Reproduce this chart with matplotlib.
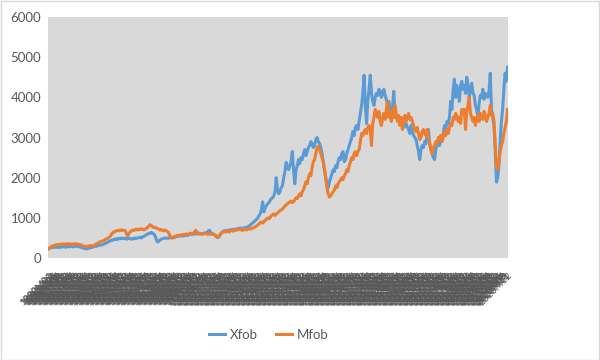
import matplotlib
matplotlib.use("Agg")
import matplotlib.pyplot as plt
from matplotlib.patches import Rectangle

years = list(range(1990, 2021))
months = list(range(1, 13))
labels = [f"{y}M{m:02d}" for y in years for m in months]

xfob = [
    245, 250, 265, 260, 270, 275, 265, 270, 280, 265, 275, 280,
    285, 280, 270, 285, 290, 280, 295, 285, 280, 290, 300, 295,
    290, 280, 270, 260, 250, 240, 235, 230, 245, 250, 260, 270,
    280, 290, 300, 295, 310, 320, 330, 325, 340, 355, 370, 380,
    400, 420, 430, 440, 450, 470, 460, 480, 470, 490, 480, 500,
    490, 480, 500, 470, 490, 500, 480, 470, 490, 480, 500, 490,
    500, 510, 520, 500, 530, 540, 560, 580, 600, 620, 610, 640,
    620, 600, 560, 470, 400, 420, 450, 470, 480, 490, 500, 495,
    500, 495, 510, 520, 500, 510, 520, 530, 540, 550, 545, 555,
    560, 550, 570, 580, 560, 575, 590, 600, 590, 600, 610, 600,
    610, 600, 620, 610, 600, 615, 620, 630, 640, 670, 690, 640,
    620, 600, 580, 560, 520, 510, 540, 600, 640, 660, 680, 670,
    690, 680, 700, 690, 710, 700, 720, 710, 730, 720, 740, 750,
    730, 740, 760, 750, 760, 780, 800, 820, 850, 880, 900, 940,
    960, 1000, 1050, 1100, 1200, 1400, 1150, 1250, 1300, 1350, 1380, 1430,
    1480, 1500, 1550, 1650, 2000, 1700, 1600, 1650, 1750, 1800, 2000, 2150,
    2380, 2250, 2200, 2300, 2400, 2650, 2200, 1850, 2200, 2300, 2450, 2350,
    2500, 2450, 2600, 2700, 2550, 2650, 2750, 2800, 2900, 2850, 2750, 2800,
    2950, 3000, 2900, 2850, 2750, 2600, 2400, 2200, 2000, 1800, 1750, 1900,
    2000, 2100, 2200, 2150, 2300, 2250, 2400, 2500, 2450, 2600, 2650, 2400,
    2450, 2600, 2700, 2800, 2900, 3000, 3150, 3050, 3250, 3300, 3200, 3400,
    3600, 3800, 4100, 4550, 3800, 3350, 3900, 4200, 4550, 4100, 3900, 3800,
    4000, 4100, 4050, 4200, 4150, 4000, 4100, 4200, 4050, 3950, 3800, 3900,
    3700, 3650, 3750, 4150, 3600, 3500, 3450, 3400, 3500, 3350, 3300, 3250,
    3300, 3350, 3250, 3200, 3100, 3300, 3150, 3050, 3000, 2950, 2800, 2650,
    2450, 2700, 2800, 2750, 2900, 2850, 3100, 3200, 2850, 2700, 2600, 2500,
    2450, 2700, 2850, 2900, 2800, 2950, 3000, 3100, 3300, 3200, 3400, 3350,
    3500, 3900, 3700, 4200, 4450, 4000, 4300, 4100, 3900, 4300, 4400, 4200,
    4300, 4100, 4500, 4300, 4000, 4200, 4350, 4100, 4050, 3800, 3700, 3500,
    3850, 4050, 4000, 4200, 3950, 4100, 4050, 4000, 4150, 4600, 3700, 3500,
    3300, 2700, 1890, 2000, 2300, 2900, 3400, 3700, 4200, 4600, 4400, 4750,
]

mfob = [
    230, 250, 280, 300, 310, 320, 330, 340, 330, 345, 340, 350,
    350, 340, 355, 345, 360, 350, 340, 355, 350, 345, 360, 350,
    345, 340, 330, 320, 300, 295, 290, 290, 300, 305, 310, 300,
    310, 320, 340, 360, 380, 400, 410, 420, 430, 440, 470, 480,
    500, 520, 550, 600, 640, 650, 670, 680, 690, 680, 700, 690,
    700, 690, 680, 600, 560, 620, 650, 680, 700, 690, 710, 720,
    700, 720, 710, 730, 720, 700, 720, 740, 760, 800, 830, 810,
    780, 760, 770, 750, 740, 720, 700, 710, 690, 680, 700, 680,
    660, 640, 560, 520, 500, 520, 540, 550, 560, 570, 560, 580,
    570, 590, 580, 600, 590, 600, 610, 620, 600, 620, 650, 690,
    650, 620, 600, 610, 590, 600, 620, 610, 600, 590, 610, 600,
    590, 600, 580, 560, 540, 520, 560, 600, 630, 650, 660, 650,
    660, 670, 650, 680, 690, 670, 700, 690, 710, 700, 720, 710,
    700, 690, 720, 710, 700, 720, 730, 720, 740, 750, 760, 780,
    800, 820, 850, 880, 900, 870, 900, 950, 960, 1000, 980, 1010,
    1050, 1080, 1100, 1060, 1100, 1120, 1150, 1180, 1200, 1220, 1250, 1300,
    1320, 1350, 1380, 1400, 1420, 1380, 1400, 1450, 1500, 1480, 1550, 1600,
    1550, 1650, 1700, 1800, 1900, 1850, 2000, 2100, 2050, 2250, 2400, 2450,
    2600, 2750, 2780, 2700, 2600, 2500, 2400, 2200, 2000, 1750, 1600, 1520,
    1550, 1600, 1650, 1700, 1800, 1750, 1850, 1900, 1950, 2000, 1950, 2050,
    2100, 2200, 2150, 2300, 2400, 2500, 2450, 2600, 2650, 2550, 2650, 2700,
    2900, 3100, 3050, 3150, 3200, 3100, 3250, 3300, 3200, 2800, 3350, 3500,
    3700, 3600, 3500, 3650, 3400, 3300, 3500, 3600, 3450, 3700, 3900, 3500,
    3600, 3400, 3700, 3500, 3800, 3600, 3400, 3550, 3300, 3500, 3200, 3450,
    3550, 3400, 3500, 3600, 3450, 3500, 3400, 3300, 3200, 3150, 3250, 3100,
    2950, 3000, 3150, 3200, 3100, 3050, 3200, 3000, 2850, 2700, 2600, 2750,
    2800, 2900, 2850, 3000, 2950, 3050, 2900, 3000, 3150, 3050, 3200, 3100,
    3250, 3350, 3300, 3500, 3450, 3600, 3550, 3400, 3500, 3350, 3700, 3650,
    3700, 3200, 3650, 3800, 4000, 3600, 3500, 3400, 3500, 3300, 3450, 3550,
    3400, 3600, 3500, 3450, 3650, 3550, 3400, 3500, 3600, 3800, 3550, 3600,
    3400, 2800, 2250, 2200, 2400, 2650, 2800, 2900, 3100, 3250, 3400, 3700,
]

yticks = [0, 1000, 2000, 3000, 4000, 5000, 6000]

plt.rcParams['font.family'] = ['Lato', 'DejaVu Sans']

fig = plt.figure(figsize=(6, 3.6), dpi=100)
fig.patch.set_facecolor('white')
fig.add_artist(Rectangle((0.001, 0.001), 0.997, 0.996, transform=fig.transFigure,
                         fill=False, edgecolor='#D9D9D9', linewidth=1))

ax = fig.add_axes([0.08, 0.283, 0.767, 0.67])
ax.set_facecolor('#D9D9D9')

x = list(range(len(labels)))
ax.plot(x, xfob, color='#5B9BD5', linewidth=2.2, label='Xfob', solid_joinstyle='round')
ax.plot(x, mfob, color='#ED7D31', linewidth=2.2, label='Mfob', solid_joinstyle='round')

ax.set_xlim(-0.5, len(labels) - 0.5)
ax.set_ylim(0, 6000)
ax.set_yticks(yticks)
ax.set_yticklabels([str(v) for v in yticks], fontsize=9.5, color='#595959')
ax.set_xticks(x)
ax.set_xticklabels(labels, rotation=45, ha='right', rotation_mode='anchor',
                   fontsize=7, color='#595959')
ax.tick_params(axis='both', length=0)
ax.tick_params(axis='y', pad=5)
ax.tick_params(axis='x', pad=9)
for s in ax.spines.values():
    s.set_visible(False)

fig.legend(loc='center', bbox_to_anchor=(0.448, 0.07), ncol=2, frameon=False,
           fontsize=9.5, handlelength=1.2, columnspacing=1.4,
           labelcolor='#595959', handletextpad=0.35)

fig.savefig('out.png', dpi=100, facecolor='white')
